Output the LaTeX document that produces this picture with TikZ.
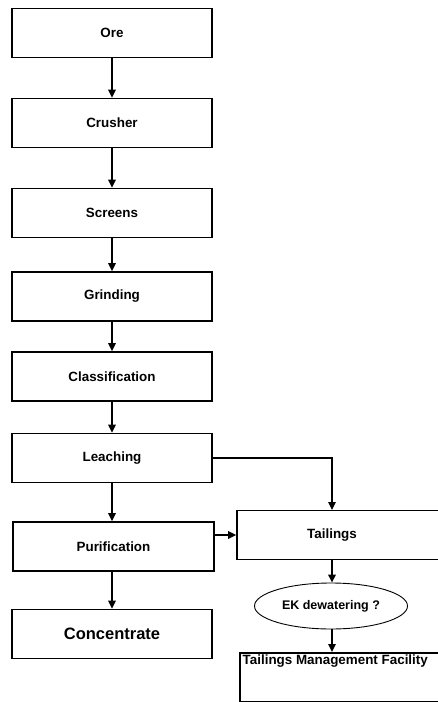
\documentclass[tikz,border=0pt]{standalone}
\usepackage{fontspec}
\setmainfont{Liberation Sans}
\usetikzlibrary{arrows.meta,shapes.geometric}
\begin{document}
\begin{tikzpicture}[x=1pt,y=-1pt,
  box/.style={draw, line width=1.6pt, rectangle, minimum width=200pt, minimum height=49pt, inner sep=0pt,
    font=\fontsize{13.4}{15}\selectfont\bfseries},
  conn/.style={line width=1.6pt, -{Triangle[length=8pt,width=7.5pt]}},
  ell/.style={draw, line width=0.9pt, ellipse, minimum width=153pt, minimum height=46pt, inner sep=0pt,
    font=\fontsize{12.5}{14}\selectfont\bfseries}]
\useasboundingbox (0,0) rectangle (437,702);
\node[box] (ore) at (112,33) {Ore};
\node[box] (crusher) at (112,123) {Crusher};
\node[box] (screens) at (112,213) {Screens};
\node[box] (grinding) at (112,296.5) {Grinding};
\node[box] (class) at (112,376.5) {Classification};
\node[box] (leach) at (112,458) {Leaching};
\node[box, minimum width=201pt] (purif) at (113.5,546.5) {Purification};
\node[box, font=\fontsize{16.5}{18}\selectfont\bfseries] (conc) at (112,634) {Concentrate};
\node[box, minimum width=213pt] (tail) at (343.5,535) {\hspace*{-23pt}Tailings};
\node[ell] (ek) at (331,606) {EK dewatering ?};
\node[box, minimum width=211pt, anchor=north west] (tmf) at (239,652) {};
\node[anchor=west, inner sep=0pt, font=\fontsize{13.4}{15}\selectfont\bfseries] (tmflabel) at (242.5,661.5) {Tailings Management Facility};
\coordinate (tailin) at (332,510);
\coordinate (tailout) at (332,560);
\draw[conn] (ore) -- (crusher);
\draw[conn] (crusher) -- (screens);
\draw[conn] (screens) -- (grinding);
\draw[conn] (grinding) -- (class);
\draw[conn] (class) -- (leach);
\draw[conn] (leach.south) -- (leach.south |- purif.north);
\draw[conn] (purif.south -| conc.north) -- (conc.north);
\draw[conn] (leach.east) -| (tailin);
\draw[conn] (purif.east |- tail.west) -- (tail.west);
\draw[conn] (tailout) -- (tailout |- ek.north);
\draw[conn] (ek.south -| tailout) -- (tailout |- tmf.north);
\end{tikzpicture}
\end{document}
